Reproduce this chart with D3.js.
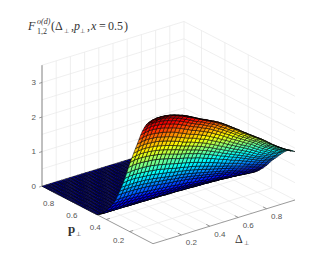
<!DOCTYPE html>
<html>
<head>
<meta charset="utf-8">
<style>
  html, body { margin: 0; padding: 0; background: #fff; }
  svg { display: block; }
  text { font-family: "Liberation Sans", Arial, sans-serif; fill: #555; font-size: 8px; }
  .math { font-family: "Liberation Serif", serif; fill: #333; }
</style>
<script src="https://d3js.org/d3.v7.min.js"></script>
</head>
<body>
<svg id="chart" width="326" height="274"></svg>
<script>
const deltaTicks = [0.2, 0.4, 0.6, 0.8];
const deltaGrid = [0.1, 0.2, 0.3, 0.4, 0.5, 0.6, 0.7, 0.8, 0.9];
const pTicks = [0.2, 0.4, 0.6, 0.8];
const zTicks = [0, 1, 2, 3];
const zGrid = [0, 0.5, 1, 1.5, 2, 2.5, 3, 3.5];

// surface nodes
const deltaValues = [0,.028,.056,.083,.111,.139,.167,.194,.222,.25,.278,.306,.333,.361,.389,.417,.444,.472,.5,.528,.556,.583,.611,.639,.667,.694,.722,.75,.778,.806,.833,.861,.889,.917,.944,.972,1];
const pValues = [0,.02,.04,.06,.075,.09,.105,.12,.135,.15,.165,.18,.195,.21,.225,.24,.255,.27,.285,.3,.32,.34,.37,.4,.43,.46,
  .48,.495,.51,.525,.54,.555,.57,.585,.6,.615,.63,.645,.66,.675,.69,.705,.72,.735,.75,.765,.78,.795,.81,.825,.84,.855,.87,.885,.9,.915,.93,.95];
// one row per p node, rows past the last one are flat at zero
const zRows = [
  [3.50,3.54,3.56,3.56,3.55,3.53,3.50,3.46,3.42,3.37,3.31,3.25,3.19,3.13,3.08,3.02,2.96,2.90,2.83,2.75,2.67,2.59,2.51,2.42,2.34,2.26,2.18,2.10,2.02,1.93,1.84,1.75,1.67,1.59,1.52,1.45,1.40],
  [3.48,3.52,3.54,3.54,3.53,3.51,3.48,3.44,3.40,3.35,3.29,3.23,3.17,3.11,3.06,3.00,2.95,2.89,2.82,2.74,2.66,2.58,2.50,2.41,2.33,2.25,2.17,2.09,2.01,1.92,1.83,1.74,1.66,1.58,1.51,1.44,1.39],
  [3.43,3.47,3.49,3.49,3.48,3.46,3.43,3.39,3.35,3.30,3.24,3.19,3.13,3.07,3.02,2.96,2.90,2.84,2.77,2.70,2.62,2.54,2.46,2.37,2.29,2.21,2.14,2.06,1.98,1.89,1.80,1.72,1.64,1.56,1.49,1.42,1.37],
  [3.33,3.36,3.38,3.38,3.37,3.35,3.33,3.29,3.25,3.20,3.14,3.09,3.03,2.97,2.93,2.87,2.81,2.76,2.69,2.61,2.54,2.46,2.38,2.30,2.22,2.15,2.07,2.00,1.92,1.83,1.75,1.66,1.59,1.51,1.44,1.38,1.33],
  [3.22,3.26,3.28,3.28,3.27,3.25,3.22,3.18,3.15,3.10,3.05,2.99,2.93,2.88,2.83,2.78,2.72,2.67,2.60,2.53,2.46,2.38,2.31,2.23,2.15,2.08,2.01,1.93,1.86,1.78,1.69,1.61,1.54,1.46,1.40,1.33,1.29],
  [3.10,3.13,3.15,3.15,3.14,3.12,3.10,3.06,3.03,2.98,2.93,2.88,2.82,2.77,2.73,2.67,2.62,2.57,2.50,2.43,2.36,2.29,2.22,2.14,2.07,2.00,1.93,1.86,1.79,1.71,1.63,1.55,1.48,1.41,1.35,1.28,1.24],
  [2.96,2.99,3.01,3.01,3.00,2.98,2.96,2.92,2.89,2.85,2.80,2.75,2.70,2.64,2.60,2.55,2.50,2.45,2.39,2.32,2.26,2.19,2.12,2.04,1.98,1.91,1.84,1.77,1.71,1.63,1.55,1.48,1.41,1.34,1.28,1.23,1.18],
  [2.80,2.83,2.85,2.85,2.84,2.82,2.80,2.77,2.74,2.70,2.65,2.60,2.55,2.50,2.46,2.42,2.37,2.32,2.26,2.20,2.14,2.07,2.01,1.94,1.87,1.81,1.74,1.68,1.62,1.54,1.47,1.40,1.34,1.27,1.22,1.16,1.12],
  [2.64,2.67,2.69,2.69,2.68,2.67,2.64,2.61,2.58,2.54,2.50,2.45,2.41,2.36,2.33,2.28,2.23,2.19,2.14,2.08,2.02,1.96,1.90,1.83,1.77,1.71,1.65,1.59,1.53,1.46,1.39,1.32,1.26,1.20,1.15,1.09,1.06],
  [2.49,2.51,2.53,2.53,2.52,2.51,2.49,2.46,2.43,2.39,2.35,2.31,2.26,2.22,2.19,2.14,2.10,2.06,2.01,1.95,1.90,1.84,1.78,1.72,1.66,1.60,1.55,1.49,1.43,1.37,1.31,1.24,1.19,1.13,1.08,1.03,.99],
  [2.33,2.35,2.37,2.37,2.36,2.35,2.33,2.30,2.27,2.24,2.20,2.16,2.12,2.08,2.05,2.01,1.97,1.93,1.88,1.83,1.78,1.72,1.67,1.61,1.56,1.50,1.45,1.40,1.34,1.28,1.22,1.16,1.11,1.06,1.01,.96,.93],
  [2.17,2.19,2.21,2.21,2.20,2.19,2.17,2.15,2.12,2.09,2.05,2.02,1.98,1.94,1.91,1.87,1.84,1.80,1.75,1.71,1.66,1.61,1.56,1.50,1.45,1.40,1.35,1.30,1.25,1.20,1.14,1.09,1.04,.99,.94,.90,.87],
  [2.01,2.04,2.05,2.05,2.04,2.03,2.01,1.99,1.97,1.94,1.90,1.87,1.83,1.80,1.77,1.74,1.70,1.67,1.63,1.58,1.54,1.49,1.44,1.39,1.35,1.30,1.25,1.21,1.16,1.11,1.06,1.01,.96,.91,.87,.83,.81],
  [1.84,1.86,1.87,1.87,1.86,1.85,1.84,1.82,1.80,1.77,1.74,1.71,1.67,1.64,1.62,1.59,1.55,1.52,1.49,1.44,1.40,1.36,1.32,1.27,1.23,1.19,1.14,1.10,1.06,1.01,.97,.92,.88,.83,.80,.76,.74],
  [1.65,1.66,1.67,1.67,1.67,1.66,1.65,1.63,1.61,1.58,1.56,1.53,1.50,1.47,1.45,1.42,1.39,1.36,1.33,1.29,1.25,1.22,1.18,1.14,1.10,1.06,1.02,.99,.95,.91,.86,.82,.78,.75,.71,.68,.66],
  [1.47,1.49,1.50,1.50,1.49,1.48,1.47,1.45,1.44,1.42,1.39,1.37,1.34,1.31,1.29,1.27,1.24,1.22,1.19,1.16,1.12,1.09,1.05,1.02,.98,.95,.92,.88,.85,.81,.77,.74,.70,.67,.64,.61,.59],
  [1.31,1.33,1.34,1.34,1.33,1.32,1.31,1.30,1.28,1.26,1.24,1.22,1.20,1.17,1.16,1.13,1.11,1.09,1.06,1.03,1.00,.97,.94,.91,.88,.85,.82,.79,.76,.72,.69,.66,.63,.60,.57,.54,.53],
  [1.16,1.17,1.17,1.17,1.17,1.16,1.16,1.14,1.13,1.11,1.09,1.07,1.05,1.03,1.02,1.00,.98,.96,.93,.91,.88,.85,.83,.80,.77,.75,.72,.69,.67,.64,.61,.58,.55,.52,.50,.48,.46],
  [1.02,1.03,1.03,1.03,1.03,1.02,1.02,1.00,.99,.98,.96,.94,.93,.91,.89,.88,.86,.84,.82,.80,.77,.75,.73,.70,.68,.66,.63,.61,.59,.56,.53,.51,.48,.46,.44,.42,.41],
  [.88,.89,.89,.89,.89,.88,.88,.87,.86,.84,.83,.81,.80,.78,.77,.76,.74,.73,.71,.69,.67,.65,.63,.61,.59,.57,.55,.53,.51,.48,.46,.44,.42,.40,.38,.36,.35],
  [.70,.71,.71,.71,.71,.71,.70,.69,.68,.67,.66,.65,.64,.63,.62,.60,.59,.58,.57,.55,.53,.52,.50,.48,.47,.45,.44,.42,.40,.39,.37,.35,.33,.32,.30,.29,.28],
  [.56,.57,.57,.57,.57,.56,.56,.55,.55,.54,.53,.52,.51,.50,.49,.48,.47,.46,.45,.44,.43,.41,.40,.39,.37,.36,.35,.34,.32,.31,.29,.28,.27,.25,.24,.23,.22],
  [.40,.41,.41,.41,.41,.41,.40,.40,.39,.39,.38,.37,.37,.36,.35,.35,.34,.33,.33,.32,.31,.30,.29,.28,.27,.26,.25,.24,.23,.22,.21,.20,.19,.18,.17,.17,.16],
  [.25,.25,.25,.25,.25,.25,.25,.24,.24,.24,.23,.23,.22,.22,.22,.21,.21,.20,.20,.19,.19,.18,.18,.17,.16,.16,.15,.15,.14,.14,.13,.12,.12,.11,.11,.10,.10],
  [.12,.12,.12,.12,.12,.12,.12,.12,.12,.12,.12,.11,.11,.11,.11,.11,.10,.10,.10,.10,.09,.09,.09,.08,.08,.08,.08,.07,.07,.07,.06,.06,.06,.06,.05,.05,.05],
  [.04,.04,.04,.04,.04,.04,.04,.03,.03,.03,.03,.03,.03,.03,.03,.03,.03,.03,.03,.03,.03,.03,.03,.02,.02,.02,.02,.02,.02,.02,.02,.02,.02,.02,.02,.01,.01]
];

const pMax = 0.95;
const zMax = 3.5;
const deltaX = d3.scaleLinear([0, 1], [153, 295]);
const deltaY = d3.scaleLinear([0, 1], [243.7, 200]);
const pX = d3.scaleLinear([0, pMax], [0, -111]);
const pY = d3.scaleLinear([0, pMax], [0, -57.5]);
const zY = d3.scaleLinear([0, zMax], [0, -121]);
const jet = d3.scaleLinear()
  .domain([0, 0.125, 0.375, 0.625, 0.875, 1].map(t => t * 3.56))
  .range(["#00008f", "#0000ff", "#00ffff", "#ffff00", "#ff0000", "#800000"])
  .clamp(true);

const project = (delta, p, z) => [deltaX(delta) + pX(p), deltaY(delta) + pY(p) + zY(z)];
const svg = d3.select("#chart");
const line = d3.line();

function seg(g, a, b, color, width) {
  g.append("path").attr("d", line([project(...a), project(...b)]))
    .attr("fill", "none").attr("stroke", color).attr("stroke-width", width);
}

// grid on floor and both walls
const grid = svg.append("g");
const gridColor = "#e8e8e8";
deltaGrid.forEach(d => {
  seg(grid, [d, 0, 0], [d, pMax, 0], gridColor, 0.7);
  seg(grid, [d, pMax, 0], [d, pMax, zMax], gridColor, 0.7);
});
pTicks.forEach(p => {
  seg(grid, [0, p, 0], [1, p, 0], gridColor, 0.7);
  seg(grid, [1, p, 0], [1, p, zMax], gridColor, 0.7);
});
zGrid.forEach(z => {
  seg(grid, [0, pMax, z], [1, pMax, z], gridColor, 0.7);
  seg(grid, [1, pMax, z], [1, 0, z], gridColor, 0.7);
});
seg(grid, [1, pMax, 0], [1, pMax, zMax], gridColor, 0.7);

// axis lines and tick marks
const axes = svg.append("g");
const axisColor = "#808080";
seg(axes, [0, pMax, 0], [0, pMax, zMax], axisColor, 1);
seg(axes, [0, pMax, 0], [0, 0, 0], axisColor, 0.8);
seg(axes, [0, 0, 0], [1, 0, 0], axisColor, 0.8);
deltaTicks.forEach(d => seg(axes, [d, 0, 0], [d, 0.03, 0], axisColor, 0.8));
pTicks.forEach(p => seg(axes, [0, p, 0], [0.025, p, 0], axisColor, 0.8));
zTicks.forEach(z => seg(axes, [0, pMax, z], [-0.02, pMax, z], axisColor, 0.8));

// surface, far cells first
const surface = svg.append("g");
const zAt = (j, i) => (zRows[j] ? zRows[j][i] : 0);
for (let j = pValues.length - 2; j >= 0; j--) {
  for (let i = deltaValues.length - 2; i >= 0; i--) {
    const corners = [[i, j], [i + 1, j], [i + 1, j + 1], [i, j + 1]];
    const pts = corners.map(([a, b]) => project(deltaValues[a], pValues[b], zAt(b, a)));
    const mean = d3.mean(corners, ([a, b]) => zAt(b, a));
    surface.append("path")
      .attr("d", line(pts) + "Z")
      .attr("fill", jet(mean))
      .attr("stroke", "#000")
      .attr("stroke-width", 0.55);
  }
}

// tick labels
const labels = svg.append("g");
zTicks.forEach(z => labels.append("text").attr("x", 36).attr("y", project(0, pMax, z)[1] + 2.5)
  .attr("text-anchor", "end").text(z));
deltaTicks.forEach(d => {
  const [x, y] = project(d, 0, 0);
  labels.append("text").attr("x", x + 10).attr("y", y + 10.5).attr("text-anchor", "middle").text(d);
});
pTicks.forEach(p => {
  const [x, y] = project(0, p, 0);
  labels.append("text").attr("x", x - 11).attr("y", y + 11).attr("text-anchor", "middle").text(p);
});

// title and axis labels
function math(x, y, size, str, style, weight) {
  svg.append("text").attr("class", "math").attr("x", x).attr("y", y)
    .style("font-size", size + "px").style("font-style", style || "normal")
    .style("font-weight", weight || "normal").text(str);
}
math(28, 30, 12, "F", "italic");
math(37, 24, 8, "o(d)", "italic");
math(37, 34, 8, "1,2");
math(51, 30, 12, "(");
math(55, 30, 12, "Δ");
math(64, 33, 5.5, "⊥");
math(71, 30, 12, ",");
math(74, 30, 12, "p", "italic");
math(80, 33, 5.5, "⊥");
math(87, 30, 12, ",");
math(91, 30, 12, "x", "italic");
math(99, 30, 12, "=");
math(108, 30, 12, "0.5");
math(124, 30, 12, ")");
math(68, 233, 13, "p", "normal", "bold");
math(75.5, 236, 5.5, "⊥");
math(235, 243, 12, "Δ");
math(244, 245, 5.5, "⊥");
</script>
</body>
</html>
